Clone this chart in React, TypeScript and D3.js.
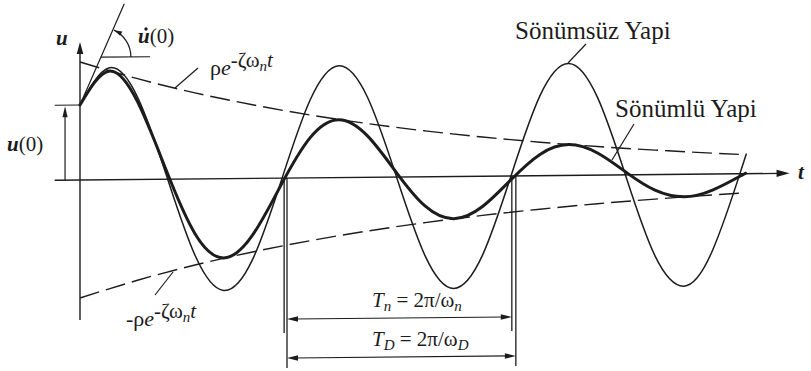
import React from 'react';
import * as d3 from 'd3';

// Free vibration of a single-degree-of-freedom system: damped vs. undamped response.
// Time in seconds (one damped half-cycle = 1 s), displacement in cm.

const sampleTimes = [0, 0.25, 0.5, 0.75, 1, 1.25, 1.5, 1.75, 2, 2.25, 2.5, 2.75, 3, 3.25, 3.5, 3.75, 4, 4.25, 4.5, 4.75, 5, 5.25, 5.5, 5.75];

// Damped (Sönümlü) response
const dampedTimes = [...sampleTimes, 5.78];
const dampedValues = [0.75, 1.086, 0.778, 0.089, -0.548, -0.793, -0.568, -0.065, 0.4, 0.579, 0.414, 0.047, -0.292, -0.422, -0.303, -0.035, 0.213, 0.308, 0.221, 0.025, -0.156, -0.225, -0.161, -0.018, 0.0];

// Undamped (Sönümsüz) response
const undampedTimes = [...sampleTimes, 5.79];
const undampedValues = [0.75, 1.118, 0.824, 0.044, -0.763, -1.118, -0.813, -0.026, 0.776, 1.119, 0.801, 0.009, -0.788, -1.119, -0.789, 0.008, 0.8, 1.119, 0.777, -0.026, -0.812, -1.118, -0.764, 0.043, 0.183];

// Decay envelope  ρ e^{-ζ ωn t}
const envelopeTimes = [0, 0.5, 1, 1.5, 2, 2.5, 3, 3.5, 4, 4.5, 5, 5.5, 5.78];
const envelopeValues = [1.18, 1.008, 0.861, 0.736, 0.629, 0.537, 0.459, 0.392, 0.335, 0.286, 0.245, 0.209, 0.191];

// Initial conditions
const initialDisplacement = 0.75;
const initialVelocity = 2.62;

// Period markers (start, end) in seconds
const naturalPeriod = [1.775, 3.755];
const dampedPeriod = [1.8, 3.79];

const W = 811;
const H = 371;
const INK = '#1c1c1c';
const FONT = "'Liberation Serif', 'Times New Roman', serif";

const x = d3.scaleLinear().domain([0, 6]).range([80, 770]);
const y = d3.scaleLinear().domain([-1.5, 1.5]).range([327, 27]);

type P = { t: number; u: number };
const zipPts = (ts: number[], us: number[]): P[] => ts.map((t, i) => ({ t, u: us[i] }));

const smooth = d3
  .line<P>()
  .x((d) => x(d.t))
  .y((d) => y(d.u))
  .curve(d3.curveNatural);

function arrowHead(tx: number, ty: number, dx: number, dy: number, len: number, hw: number) {
  const n = Math.hypot(dx, dy);
  const ux = dx / n;
  const uy = dy / n;
  const bx = tx - ux * len;
  const by = ty - uy * len;
  return `M${tx},${ty}L${bx - uy * hw},${by + ux * hw}L${bx + uy * hw},${by - ux * hw}Z`;
}

export default function App() {
  const damped = zipPts(dampedTimes, dampedValues);
  const undamped = zipPts(undampedTimes, undampedValues);
  const upper = zipPts(envelopeTimes, envelopeValues);
  const lower = zipPts(envelopeTimes, envelopeValues.map((v) => -v));

  const y0 = y(0);

  // t axis
  const tStart = x(-0.22);
  const tTip = x(6.17);
  // u axis
  const uBottom = y(-1.4);
  const uTip = y(1.38);

  // u(0) marker
  const u0y = y(initialDisplacement);
  const u0x = x(-0.13);

  // slope at t = 0
  const tanEnd = 0.385;
  const tanX1 = x(0);
  const tanY1 = y(initialDisplacement);
  const tanX2 = x(tanEnd);
  const tanY2 = y(initialDisplacement + initialVelocity * tanEnd);
  const refU = 1.226;
  const refT0 = (refU - initialDisplacement) / initialVelocity;
  const cx = x(refT0);
  const cy = y(refU);
  const ang = Math.atan2(tanY2 - tanY1, tanX2 - tanX1); // negative (upwards)
  const r = 30;
  const arcEnd = ang + 0.04;
  const arcPath = d3.path();
  arcPath.arc(cx, cy, r, 0, arcEnd, true);
  const ax = cx + r * Math.cos(arcEnd);
  const ay = cy + r * Math.sin(arcEnd);
  const adx = Math.sin(arcEnd);
  const ady = -Math.cos(arcEnd);

  // period dimension lines
  const tnY = y(-1.41);
  const tdY = y(-1.8);
  const tnBottom = y(-1.55);
  const tdBottom = y(-1.9);

  const textStyle = { fontFamily: FONT };

  return (
    <svg
      width={W}
      height={H}
      viewBox={`0 0 ${W} ${H}`}
      style={{ position: 'absolute', left: 0, top: 0, background: '#fff', fontFamily: FONT }}
    >
      <rect width={W} height={H} fill="#fff" />
      <g transform="translate(400,0) skewY(-0.54) translate(-400,0)" fill="none" stroke={INK}>
        {/* envelopes */}
        <path d={smooth(upper) ?? ''} strokeWidth={1.4} strokeDasharray="20 7" />
        <path d={smooth(lower) ?? ''} strokeWidth={1.4} strokeDasharray="20 7" />

        {/* axes */}
        <line x1={tStart} y1={y0} x2={tTip - 10} y2={y0} strokeWidth={1.4} />
        <path d={arrowHead(tTip, y0, 1, 0, 13, 3.6)} fill={INK} stroke="none" />
        <line x1={x(0)} y1={uBottom} x2={x(0)} y2={uTip + 8} strokeWidth={1.4} />
        <path d={arrowHead(x(0), uTip, 0, -1, 12, 3.3)} fill={INK} stroke="none" />

        {/* u(0) */}
        <line x1={tStart} y1={u0y} x2={x(0)} y2={u0y} strokeWidth={1.2} />
        <line x1={u0x} y1={y0} x2={u0x} y2={u0y + 8} strokeWidth={1.2} />
        <path d={arrowHead(u0x, u0y + 1, 0, -1, 11, 2.6)} fill={INK} stroke="none" />

        {/* initial slope */}
        <line x1={tanX1} y1={tanY1} x2={tanX2} y2={tanY2} strokeWidth={1.2} />
        <line x1={cx} y1={cy} x2={x(0.61)} y2={cy} strokeWidth={1.2} />
        <path d={arcPath.toString()} strokeWidth={1.2} />
        <path d={arrowHead(ax, ay, adx, ady, 8, 2.4)} fill={INK} stroke="none" />

        {/* responses */}
        <path d={smooth(undamped) ?? ''} strokeWidth={1.5} strokeLinejoin="round" />
        <path d={smooth(damped) ?? ''} strokeWidth={3} strokeLinejoin="round" strokeLinecap="round" />

        {/* period markers */}
        {naturalPeriod.map((t, i) => (
          <line key={`tn${i}`} x1={x(t)} y1={y0} x2={x(t)} y2={tnBottom} strokeWidth={1.3} />
        ))}
        {dampedPeriod.map((t, i) => (
          <line key={`td${i}`} x1={x(t)} y1={y0} x2={x(t)} y2={tdBottom} strokeWidth={1.3} />
        ))}
        <line x1={x(dampedPeriod[0]) + 6} y1={tnY} x2={x(naturalPeriod[1]) - 6} y2={tnY} strokeWidth={1.2} />
        <path d={arrowHead(x(dampedPeriod[0]), tnY, -1, 0, 11, 2.8)} fill={INK} stroke="none" />
        <path d={arrowHead(x(naturalPeriod[1]), tnY, 1, 0, 11, 2.8)} fill={INK} stroke="none" />
        <line x1={x(dampedPeriod[0]) + 6} y1={tdY} x2={x(dampedPeriod[1]) - 6} y2={tdY} strokeWidth={1.2} />
        <path d={arrowHead(x(dampedPeriod[0]), tdY, -1, 0, 11, 2.8)} fill={INK} stroke="none" />
        <path d={arrowHead(x(dampedPeriod[1]), tdY, 1, 0, 11, 2.8)} fill={INK} stroke="none" />
      </g>

      {/* leader lines */}
      <g stroke={INK} strokeWidth={1.2}>
        <line x1={175} y1={88} x2={198} y2={68} />
        <line x1={155} y1={295} x2={173} y2={272} />
        <line x1={568} y1={63} x2={586} y2={44} />
        <line x1={612} y1={160} x2={634} y2={124} />
      </g>

      {/* labels */}
      <g fill={INK} style={textStyle}>
        <text x={56} y={45} fontSize={21} fontStyle="italic" fontWeight="bold" style={textStyle}>u</text>
        <text x={798} y={179} fontSize={21} fontStyle="italic" fontWeight="bold" style={textStyle}>t</text>

        <text x={7} y={151} fontSize={21} style={textStyle}>
          <tspan fontStyle="italic" fontWeight="bold">u</tspan>
          <tspan>(0)</tspan>
        </text>

        <text x={138} y={43} fontSize={21} style={textStyle}>
          <tspan fontStyle="italic" fontWeight="bold">u</tspan>
          <tspan>(0)</tspan>
        </text>
        <circle cx={146} cy={29} r={1.7} />

        <text x={210} y={75} fontSize={22} style={textStyle}>
          <tspan>ρ</tspan>
          <tspan fontStyle="italic">e</tspan>
          <tspan dy={-8} fontSize={21}>-ζω</tspan>
          <tspan dy={4} fontSize={15} fontStyle="italic">n</tspan>
          <tspan dy={-4} fontSize={21} fontStyle="italic">t</tspan>
        </text>

        <text x={126} y={326} fontSize={22} style={textStyle}>
          <tspan>-ρ</tspan>
          <tspan fontStyle="italic">e</tspan>
          <tspan dy={-8} fontSize={21}>-ζω</tspan>
          <tspan dy={4} fontSize={15} fontStyle="italic">n</tspan>
          <tspan dy={-4} fontSize={21} fontStyle="italic">t</tspan>
        </text>

        <text x={515} y={39} fontSize={25} style={textStyle}>Sönümsüz Yapi</text>
        <text x={615} y={117} fontSize={25} style={textStyle}>Sönümlü Yapi</text>

        <text x={372} y={307} fontSize={21} style={textStyle}>
          <tspan fontStyle="italic">T</tspan>
          <tspan dy={4} fontSize={15} fontStyle="italic">n</tspan>
          <tspan dy={-4}> = 2π/ω</tspan>
          <tspan dy={4} fontSize={15} fontStyle="italic">n</tspan>
        </text>
        <text x={372} y={346} fontSize={21} style={textStyle}>
          <tspan fontStyle="italic">T</tspan>
          <tspan dy={4} fontSize={15} fontStyle="italic">D</tspan>
          <tspan dy={-4}> = 2π/ω</tspan>
          <tspan dy={4} fontSize={15} fontStyle="italic">D</tspan>
        </text>
      </g>
    </svg>
  );
}
